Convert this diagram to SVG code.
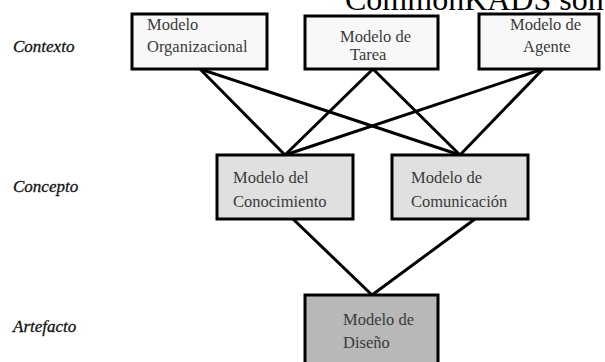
<svg xmlns="http://www.w3.org/2000/svg" width="605" height="362" viewBox="0 0 605 362">
<style>
.box{stroke:#000;stroke-width:3}
.t{font-family:"Liberation Serif","Times New Roman",serif;font-size:16.5px;fill:#3a3a3a}
.lbl{font-family:"Liberation Serif","Times New Roman",serif;font-size:17px;font-style:italic;fill:#111;stroke:#111;stroke-width:0.3}
.c{stroke:#000;stroke-width:3;fill:none}
</style>
<rect width="605" height="362" fill="#fff"/>
<text x="345" y="10" font-family="Liberation Serif, serif" font-size="32" fill="#000">CommonKADS son</text>
<g id="labels">
<text class="lbl" x="13" y="52">Contexto</text>
<text class="lbl" x="13" y="192">Concepto</text>
<text class="lbl" x="13" y="332">Artefacto</text>
</g>
<g id="connectors">
<line class="c" x1="200" y1="69" x2="285" y2="155"/>
<line class="c" x1="200" y1="69" x2="460" y2="155"/>
<line class="c" x1="373" y1="69" x2="285" y2="155"/>
<line class="c" x1="373" y1="69" x2="460" y2="155"/>
<line class="c" x1="543" y1="69" x2="285" y2="155"/>
<line class="c" x1="543" y1="69" x2="460" y2="155"/>
<line class="c" x1="293" y1="219" x2="372" y2="295"/>
<line class="c" x1="475" y1="219" x2="372" y2="295"/>
</g>
<g id="organizacional">
<rect class="box" x="132" y="14" width="135" height="55" fill="#f8f8f8"/>
<text class="t" x="147" y="30">Modelo</text>
<text class="t" x="147" y="52">Organizacional</text>
</g>
<g id="tarea">
<rect class="box" x="305" y="16" width="133" height="53" fill="#f8f8f8"/>
<text class="t" x="340" y="42">Modelo de</text>
<text class="t" x="350" y="60">Tarea</text>
</g>
<g id="agente">
<rect class="box" x="479" y="14" width="120" height="55" fill="#f8f8f8"/>
<text class="t" x="510" y="30">Modelo de</text>
<text class="t" x="523" y="52">Agente</text>
</g>
<g id="conocimiento">
<rect class="box" x="217" y="155" width="136" height="64" fill="#e0e0e0"/>
<text class="t" x="233" y="183">Modelo del</text>
<text class="t" x="233" y="207">Conocimiento</text>
</g>
<g id="comunicacion">
<rect class="box" x="392" y="155" width="136" height="64" fill="#e0e0e0"/>
<text class="t" x="411" y="183">Modelo de</text>
<text class="t" x="411" y="207">Comunicación</text>
</g>
<g id="diseno">
<rect class="box" x="305" y="295" width="133" height="80" fill="#b8b8b8"/>
<text class="t" x="343" y="325">Modelo de</text>
<text class="t" x="343" y="348">Diseño</text>
</g>
</svg>
